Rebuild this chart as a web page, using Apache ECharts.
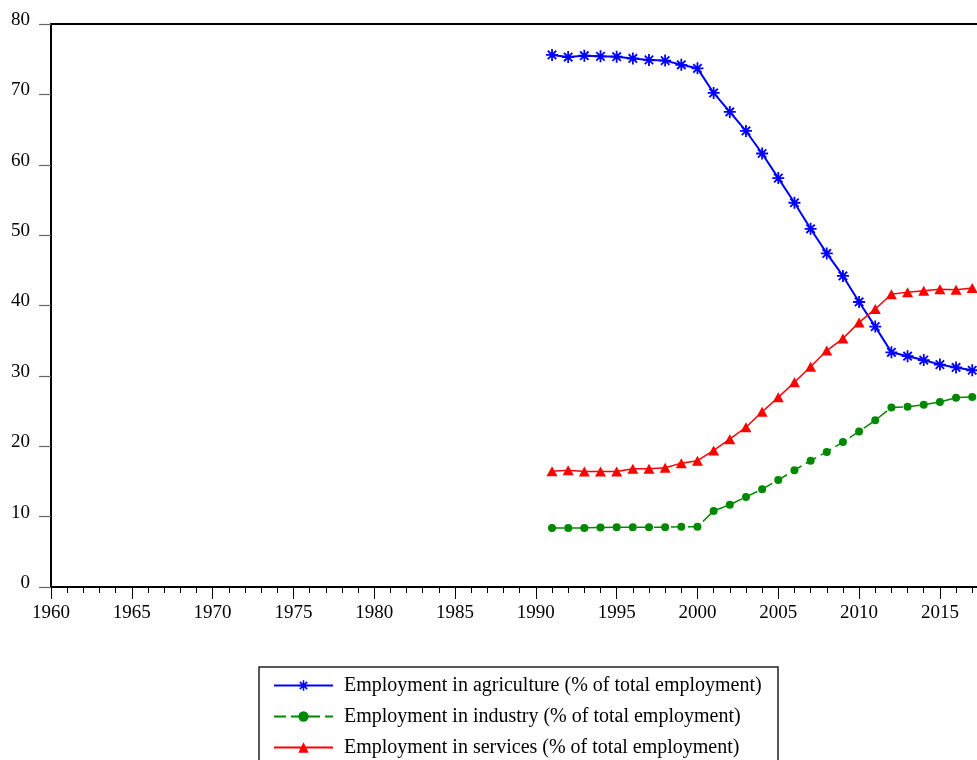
<!DOCTYPE html>
<html>
<head>
<meta charset="utf-8">
<script src="https://cdn.jsdelivr.net/npm/echarts@6/dist/echarts.min.js"></script>
<style>
  html, body { margin: 0; padding: 0; background: #fff; overflow: hidden; width: 977px; height: 760px; }
  #chart { width: 1000px; height: 760px; }
</style>
</head>
<body>
<div id="chart"></div>
<script>
// ---- data ----
var years = [1991, 1992, 1993, 1994, 1995, 1996, 1997, 1998, 1999, 2000,
             2001, 2002, 2003, 2004, 2005, 2006, 2007, 2008, 2009, 2010,
             2011, 2012, 2013, 2014, 2015, 2016, 2017];
var agriculture = [75.6, 75.3, 75.5, 75.4, 75.35, 75.1, 74.9, 74.8, 74.2, 73.7,
                   70.2, 67.5, 64.8, 61.6, 58.1, 54.6, 50.9, 47.4, 44.2, 40.5,
                   37.0, 33.35, 32.8, 32.25, 31.6, 31.2, 30.8];
var industry = [8.4, 8.4, 8.4, 8.45, 8.5, 8.5, 8.5, 8.5, 8.55, 8.55,
                10.8, 11.7, 12.8, 13.9, 15.2, 16.6, 17.95, 19.2, 20.6, 22.1,
                23.7, 25.5, 25.6, 25.9, 26.3, 26.9, 27.0];
var services = [16.45, 16.6, 16.4, 16.4, 16.4, 16.8, 16.8, 16.95, 17.6, 17.95,
                19.4, 21.0, 22.7, 24.9, 26.95, 29.1, 31.3, 33.6, 35.3, 37.6,
                39.5, 41.6, 41.9, 42.1, 42.3, 42.25, 42.5];
var seriesNames = [
  'Employment in agriculture (% of total employment)',
  'Employment in industry (% of total employment)',
  'Employment in services (% of total employment)'
];
var xMin = 1960, xMax = 2018.1;
var yMin = 0, yMax = 80, yStep = 10;

function pairs(vals) {
  return years.map(function (y, i) { return [y, vals[i]]; });
}

var FONT = '"Liberation Serif", "DejaVu Serif", serif';
var asterisk = 'path://M-1.5,-10 L1.5,-10 L1.5,10 L-1.5,10 Z ' +
  'M-10,-1.5 L10,-1.5 L10,1.5 L-10,1.5 Z ' +
  'M-8.1,-5.9 L-5.9,-8.1 L8.1,5.9 L5.9,8.1 Z ' +
  'M5.9,-8.1 L8.1,-5.9 L-5.9,8.1 L-8.1,5.9 Z';

var chart = echarts.init(document.getElementById('chart'), null, { renderer: 'canvas', width: 1000, height: 760 });
chart.setOption({
  backgroundColor: '#ffffff',
  animation: false,
  grid: { left: 51, right: 10, top: 24, bottom: 173, containLabel: false },
  xAxis: [
    {
      type: 'value', position: 'bottom', min: xMin, max: xMax, interval: 5,
      axisLine: { show: true, lineStyle: { color: '#000', width: 2 } },
      axisTick: { show: true, length: 12, lineStyle: { color: '#000', width: 1 } },
      axisLabel: {
        show: true, margin: 17, fontFamily: FONT, fontSize: 19, color: '#000',
        formatter: function (v) { return (Math.abs(v - Math.round(v)) < 1e-6 && Math.round(v) % 5 === 0) ? String(Math.round(v)) : ''; }
      },
      splitLine: { show: false }
    },
    {
      type: 'value', position: 'bottom', min: xMin, max: xMax, interval: 1,
      axisLine: { show: false },
      axisTick: { show: true, length: 6, lineStyle: { color: '#000', width: 1 } },
      axisLabel: { show: false },
      splitLine: { show: false }
    },
    {
      type: 'value', position: 'top', min: xMin, max: xMax, interval: 5,
      axisLine: { show: true, lineStyle: { color: '#000', width: 2 } },
      axisTick: { show: false },
      axisLabel: { show: false },
      splitLine: { show: false }
    }
  ],
  yAxis: {
    type: 'value', min: yMin, max: yMax, interval: yStep,
    axisLine: { show: true, lineStyle: { color: '#000', width: 2 } },
    axisTick: { show: true, length: 12, lineStyle: { color: '#666', width: 1.2 } },
    axisLabel: { show: true, margin: 21, fontFamily: FONT, fontSize: 19, color: '#000',
                 verticalAlign: 'bottom', lineHeight: 8 },
    splitLine: { show: false }
  },
  legend: {
    orient: 'vertical', left: 273, top: 675, padding: 0,
    itemWidth: 59, itemHeight: 13, itemGap: 10,
    textStyle: { fontFamily: FONT, fontSize: 20, color: '#000', lineHeight: 21, padding: [0, 0, 0, 6] },
    data: seriesNames
  },
  graphic: [
    { type: 'rect', shape: { x: 259, y: 667, width: 519, height: 110 },
      style: { fill: 'none', stroke: '#222', lineWidth: 1.5 }, silent: true }
  ],
  series: [
    {
      name: seriesNames[0], type: 'line', xAxisIndex: 0, data: pairs(agriculture),
      symbol: asterisk, symbolSize: 12, showAllSymbol: true,
      lineStyle: { color: '#0000ff', width: 2 },
      itemStyle: { color: '#0000ff' }
    },
    {
      name: seriesNames[1], type: 'line', xAxisIndex: 0, data: pairs(industry),
      symbol: 'circle', symbolSize: 8, showAllSymbol: true,
      lineStyle: { color: '#008800', width: 1.5, type: [12, 5] },
      itemStyle: { color: '#008800' }
    },
    {
      name: seriesNames[2], type: 'line', xAxisIndex: 0, data: pairs(services),
      symbol: 'triangle', symbolSize: [11, 10], showAllSymbol: true,
      lineStyle: { color: '#ff0000', width: 1.5 },
      itemStyle: { color: '#ff0000' }
    }
  ]
});
</script>
</body>
</html>
